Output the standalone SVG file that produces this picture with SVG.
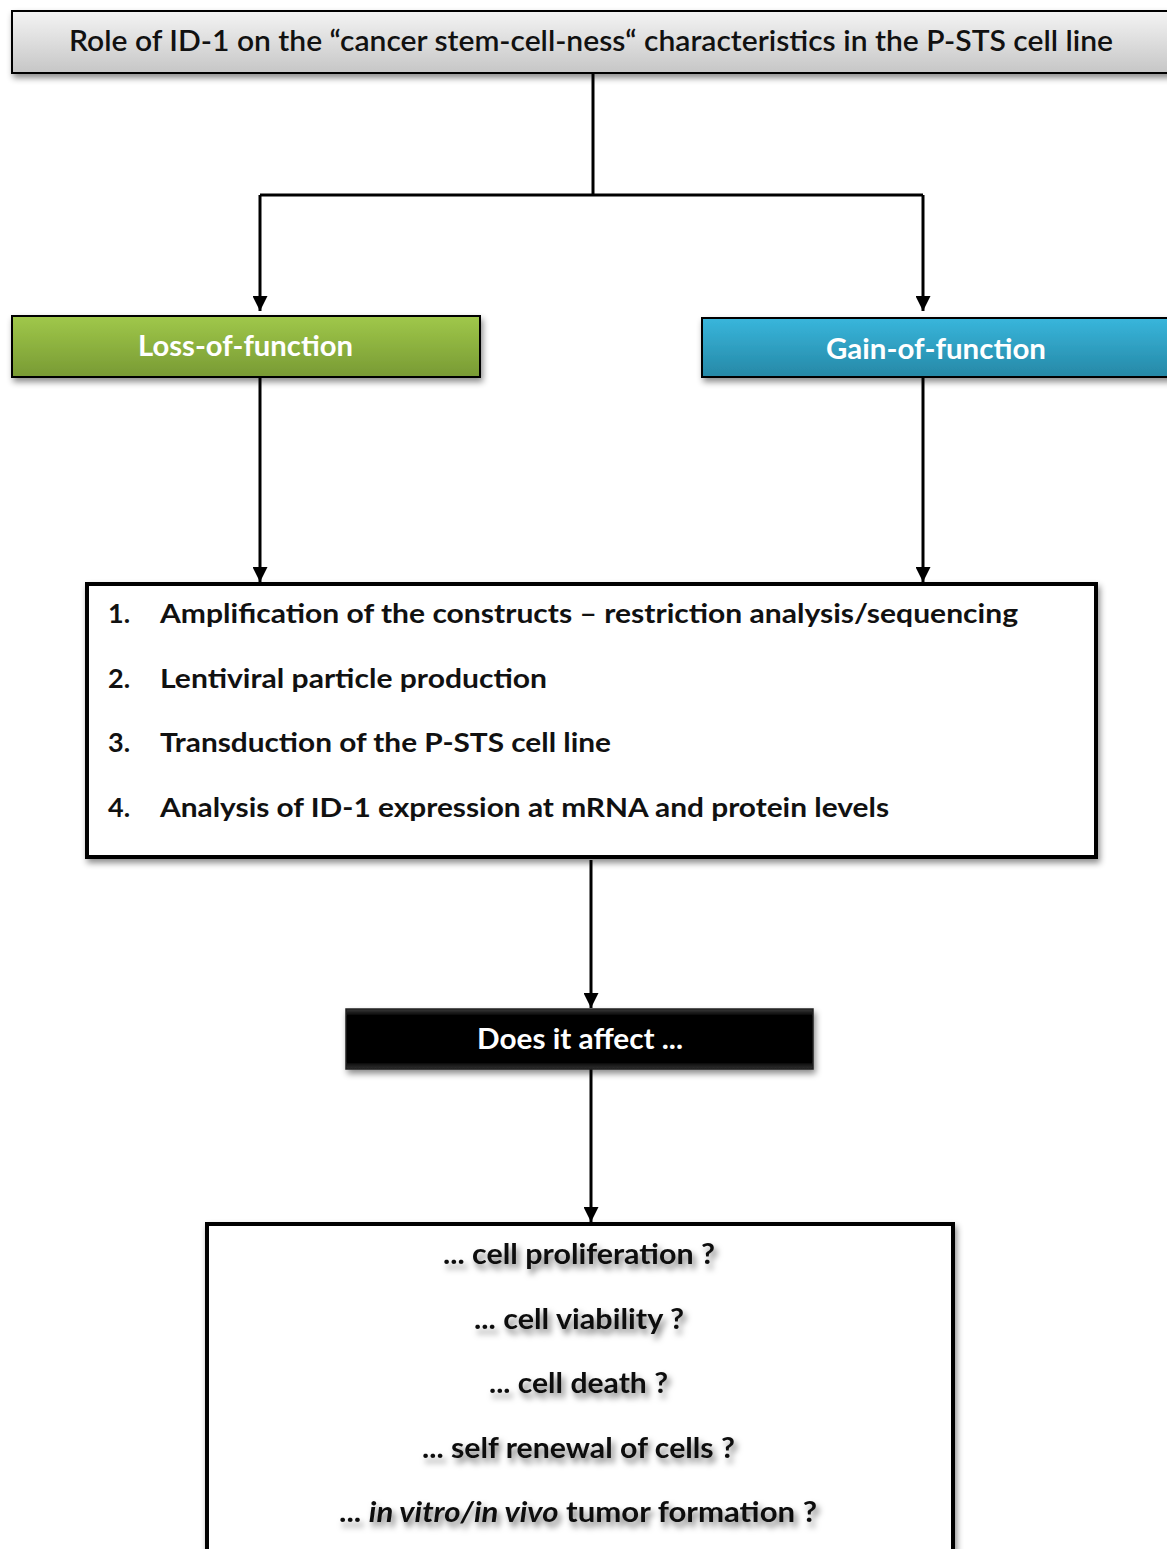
<svg xmlns="http://www.w3.org/2000/svg" width="1167" height="1549" viewBox="0 0 1167 1549">
<style>
text{font-family:Lato,"Open Sans","Liberation Sans",sans-serif;}
.title{font-size:28px;font-weight:600;fill:#111;}
.hdr{font-size:28px;font-weight:700;fill:#fff;}
.item{font-size:27px;font-weight:700;fill:#111;}
.q{font-size:28px;font-weight:700;fill:#111;}
.conn{fill:none;stroke:#000;stroke-width:3;}
</style>
<defs>
<linearGradient id="gGray" x1="0" y1="0" x2="0" y2="1"><stop offset="0" stop-color="#f4f4f4"/><stop offset="1" stop-color="#c6c6c6"/></linearGradient>
<linearGradient id="gGreen" x1="0" y1="0" x2="0" y2="1"><stop offset="0" stop-color="#a0c84a"/><stop offset="1" stop-color="#789a34"/></linearGradient>
<linearGradient id="gBlue" x1="0" y1="0" x2="0" y2="1"><stop offset="0" stop-color="#38b6dc"/><stop offset="1" stop-color="#2688a6"/></linearGradient>
<linearGradient id="gBlack" x1="0" y1="0" x2="0" y2="1"><stop offset="0" stop-color="#3a3a3a"/><stop offset="0.12" stop-color="#000"/><stop offset="0.88" stop-color="#000"/><stop offset="1" stop-color="#333"/></linearGradient>
<filter id="sh" x="-5%" y="-20%" width="110%" height="150%"><feDropShadow dx="2" dy="4" stdDeviation="3" flood-color="#000" flood-opacity="0.45"/></filter>
<filter id="tsh" x="-10%" y="-30%" width="120%" height="180%"><feDropShadow dx="3" dy="5" stdDeviation="3" flood-color="#000" flood-opacity="0.55"/></filter>
<marker id="arr" viewBox="0 0 10 10" refX="10" refY="5" markerWidth="5" markerHeight="5" markerUnits="strokeWidth" orient="auto"><path d="M0,0 L10,5 L0,10 z" fill="#000"/></marker>
</defs>
<g id="connectors">
<path class="conn" d="M593,73 V195"/>
<path class="conn" d="M260,195 H923"/>
<path class="conn" d="M260,195 V311" marker-end="url(#arr)"/>
<path class="conn" d="M923,195 V311" marker-end="url(#arr)"/>
<path class="conn" d="M260,377 V582" marker-end="url(#arr)"/>
<path class="conn" d="M923,377 V582" marker-end="url(#arr)"/>
<path class="conn" d="M591,860 V1008" marker-end="url(#arr)"/>
<path class="conn" d="M591,1069 V1222" marker-end="url(#arr)"/>
</g>
<g id="title">
<rect x="12" y="11" width="1170" height="62" fill="url(#gGray)" stroke="#000" stroke-width="2" filter="url(#sh)"/>
<text class="title" x="69" y="51" textLength="1044" lengthAdjust="spacingAndGlyphs">Role of ID-1 on the “cancer stem-cell-ness“ characteristics in the P-STS cell line</text>
</g>
<g id="loss">
<rect x="12" y="316" width="468" height="61" fill="url(#gGreen)" stroke="#000" stroke-width="2" filter="url(#sh)"/>
<text class="hdr" x="138" y="356" textLength="215" lengthAdjust="spacingAndGlyphs">Loss-of-function</text>
</g>
<g id="gain">
<rect x="702" y="318" width="480" height="59" fill="url(#gBlue)" stroke="#000" stroke-width="2" filter="url(#sh)"/>
<text class="hdr" x="826" y="359" textLength="220" lengthAdjust="spacingAndGlyphs">Gain-of-function</text>
</g>
<g id="steps">
<rect x="87" y="584" width="1009" height="273" fill="#fff" stroke="#000" stroke-width="4" filter="url(#sh)"/>
<text class="item" x="108" y="623">1.</text>
<text class="item" x="160" y="623" textLength="858" lengthAdjust="spacingAndGlyphs">Amplification of the constructs – restriction analysis/sequencing</text>
<text class="item" x="108" y="688">2.</text>
<text class="item" x="160" y="688" textLength="387" lengthAdjust="spacingAndGlyphs">Lentiviral particle production</text>
<text class="item" x="108" y="752">3.</text>
<text class="item" x="160" y="752" textLength="451" lengthAdjust="spacingAndGlyphs">Transduction of the P-STS cell line</text>
<text class="item" x="108" y="817">4.</text>
<text class="item" x="160" y="817" textLength="729" lengthAdjust="spacingAndGlyphs">Analysis of ID-1 expression at mRNA and protein levels</text>
</g>
<g id="does">
<rect x="346" y="1009" width="467" height="60" fill="url(#gBlack)" stroke="#222" stroke-width="1.5" filter="url(#sh)"/>
<text class="hdr" x="477" y="1049" textLength="206" lengthAdjust="spacingAndGlyphs">Does it affect ...</text>
</g>
<g id="effects">
<rect x="207" y="1224" width="746" height="340" fill="#fff" stroke="#000" stroke-width="4" filter="url(#sh)"/>
<g filter="url(#tsh)">
<text class="q" x="443" y="1264" textLength="272" lengthAdjust="spacingAndGlyphs">... cell proliferation ?</text>
<text class="q" x="474" y="1329" textLength="210" lengthAdjust="spacingAndGlyphs">... cell viability ?</text>
<text class="q" x="489" y="1393" textLength="179" lengthAdjust="spacingAndGlyphs">... cell death ?</text>
<text class="q" x="422" y="1458" textLength="313" lengthAdjust="spacingAndGlyphs">... self renewal of cells ?</text>
<text class="q" x="339" y="1522" textLength="478" lengthAdjust="spacingAndGlyphs">... <tspan font-style="italic">in vitro/in vivo</tspan> tumor formation ?</text>
</g>
</g>
</svg>
